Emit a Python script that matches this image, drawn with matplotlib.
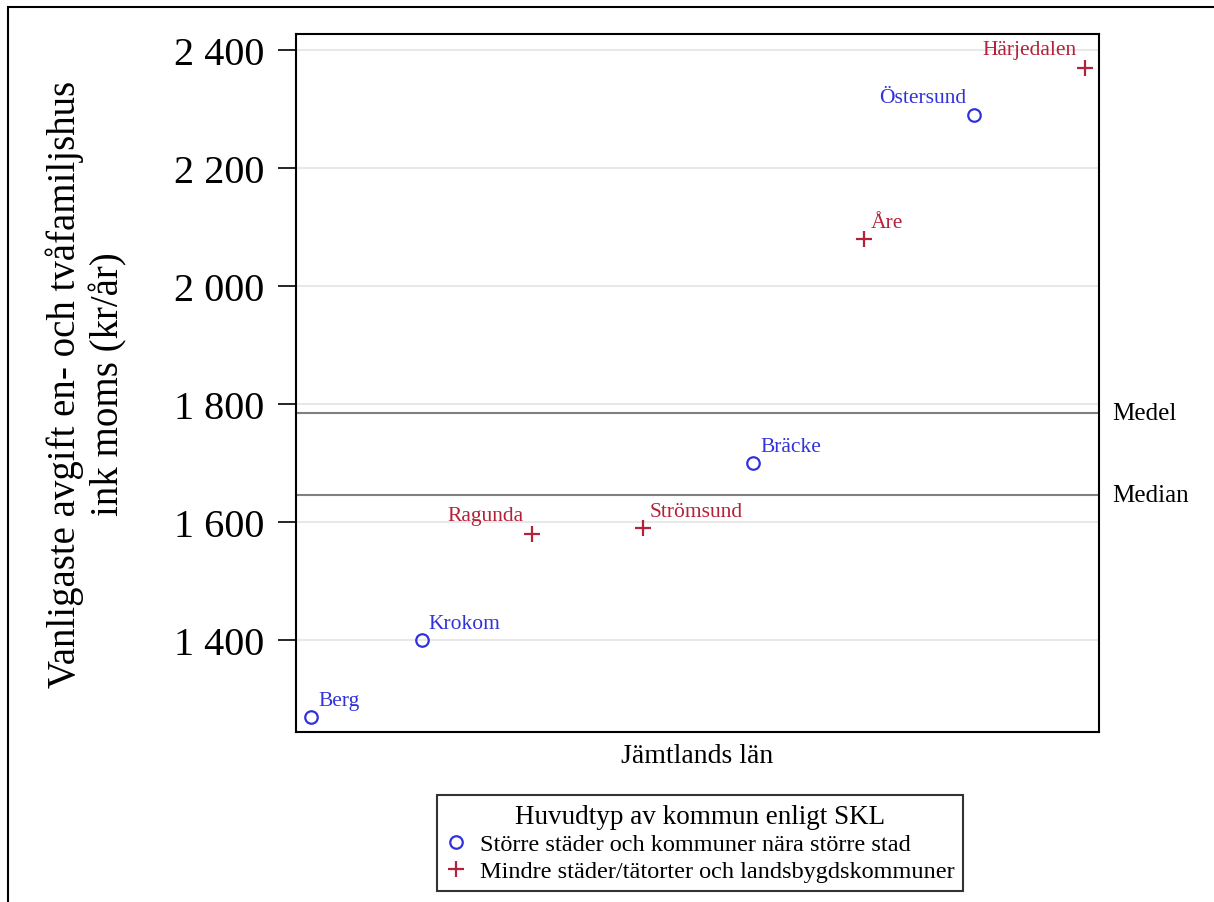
import numpy as np
import matplotlib.pyplot as plt
from matplotlib.lines import Line2D
from matplotlib.patches import Rectangle

plt.rcParams['font.family'] = ['Liberation Serif', 'DejaVu Serif']

kommuner = ['Berg', 'Krokom', 'Ragunda', 'Strömsund', 'Bräcke', 'Åre', 'Östersund', 'Härjedalen']
avgift = [1270, 1400, 1580, 1590, 1700, 2080, 2290, 2370]
typ = ['stor', 'stor', 'mindre', 'mindre', 'stor', 'mindre', 'stor', 'mindre']
label_side = ['r', 'r', 'l', 'r', 'r', 'r', 'l', 'l']
yticks = [1400, 1600, 1800, 2000, 2200, 2400]

blue = '#3232dc'
red = '#b4213a'

x = np.arange(1, len(kommuner) + 1)
y = np.array(avgift)
medel = y.mean()
median = np.median(y)

fig = plt.figure(figsize=(12.14, 9.03), dpi=100)
ax = fig.add_axes([296 / 1214, 1 - 733 / 903, (1099 - 296) / 1214, (733 - 35) / 903])

for v in yticks:
    ax.axhline(v, color='#e8e8e8', lw=1.5, zorder=0)
ax.axhline(medel, color='#808080', lw=1.5, zorder=1)
ax.axhline(median, color='#808080', lw=1.5, zorder=1)

for xi, yi, t, name, side in zip(x, y, typ, kommuner, label_side):
    if t == 'stor':
        ax.plot(xi, yi, 'o', ms=9, mfc='none', mec=blue, mew=1.6, zorder=3)
        col = blue
    else:
        ax.plot(xi, yi, '+', ms=11, mec=red, mew=1.6, zorder=3)
        col = red
    if side == 'r':
        ax.annotate(name, (xi, yi), xytext=(5, 5), textcoords='offset points',
                    ha='left', va='bottom', color=col, fontsize=15.5)
    else:
        ax.annotate(name, (xi, yi), xytext=(-6, 6), textcoords='offset points',
                    ha='right', va='bottom', color=col, fontsize=15.5)

ax.text(1.016, medel, 'Medel', transform=ax.get_yaxis_transform(), va='center', ha='left', fontsize=18)
ax.text(1.016, median, 'Median', transform=ax.get_yaxis_transform(), va='center', ha='left', fontsize=18)

ax.set_xlim(0.864, 8.127)
ax.set_ylim(1244, 2427)
ax.set_xticks([])
ax.set_yticks(yticks)
ax.set_yticklabels([f'{v:,}'.replace(',', ' ') for v in yticks], fontsize=29)
ax.tick_params(axis='y', length=13, width=1.2, pad=10)
for s in ax.spines.values():
    s.set_linewidth(1.5)

ax.set_xlabel('Jämtlands län', fontsize=20, labelpad=8)
ax.set_ylabel('Vanligaste avgift en- och tvåfamiljshus\nink moms (kr/år)', fontsize=28, labelpad=33)

handles = [Line2D([], [], ls='none', marker='o', ms=9, mfc='none', mec=blue, mew=1.6),
           Line2D([], [], ls='none', marker='+', ms=12, mec=red, mew=1.6)]
leg = fig.legend(handles, ['Större städer och kommuner nära större stad',
                           'Mindre städer/tätorter och landsbygdskommuner'],
                 title='Huvudtyp av kommun enligt SKL', loc='center',
                 bbox_to_anchor=(700 / 1214, 1 - 844 / 903), fontsize=17.5, title_fontsize=19.5,
                 frameon=True, fancybox=False, edgecolor='black', handlelength=0.9,
                 handletextpad=0.55, borderpad=0.35, labelspacing=0.2, borderaxespad=0)
leg.get_frame().set_linewidth(1.5)

fig.patches.append(Rectangle((8 / 1214, -0.1), 1.2, 1 - 8 / 903 + 0.1, transform=fig.transFigure,
                             fill=False, edgecolor='black', lw=1.5))

fig.savefig('out.png', dpi=100)
